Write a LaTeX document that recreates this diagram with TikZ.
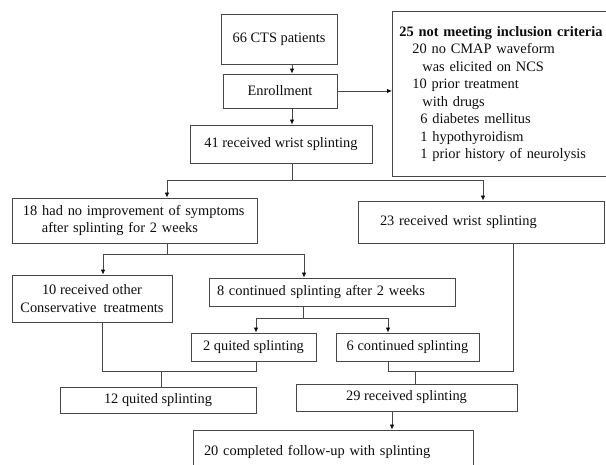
\documentclass[tikz,border=0pt]{standalone}
\usepackage{fontspec}
\setmainfont{Liberation Serif}
\usetikzlibrary{arrows.meta}
\definecolor{linegray}{gray}{0.28}
\definecolor{textgray}{gray}{0.05}

\begin{document}
\begin{tikzpicture}[x=1pt,y=-1pt,
	flow_box/.style={draw=linegray,line width=0.8pt,inner sep=0pt,text=textgray,font=\fontsize{14.4}{17.5}\selectfont},
	mid_box/.style={flow_box,align=center},
	left_box/.style={flow_box,align=left,inner xsep=#1},
	flow_line/.style={draw=linegray,line width=0.8pt},
	flow_arrow/.style={flow_line,-{Latex[length=5pt,width=4.5pt,color=textgray]}}]
		
		\useasboundingbox (0,0) rectangle (606,465);
		\clip (0,0) rectangle (606,465);
		
		\node[mid_box,minimum width=116pt,minimum height=50pt] (pat) at (279,39) {66 CTS patients};
		\node[mid_box,minimum width=114pt,minimum height=34pt] (enr) at (280,91) {Enrollment};
		\node[left_box=7pt,text width=206pt,minimum height=165pt,anchor=north west] (excl) at (392,11) {\textbf{25 not meeting inclusion criteria}\\
			\hspace*{13pt}20 no CMAP waveform\\
			\hspace*{23pt}was elicited on NCS\\
			\hspace*{13pt}10 prior treatment\\
			\hspace*{23pt}with drugs\\
			\hspace*{21pt}6 diabetes mellitus\\
			\hspace*{21pt}1 hypothyroidism\\
			\hspace*{21pt}1 prior history of neurolysis};
		\node[mid_box,minimum width=182pt,minimum height=38pt] (wrist41) at (281,144) {41 received wrist splinting};
		\node[left_box=11pt,text width=223pt,minimum height=45pt] (noimp) at (134.5,220.5) {18 had no improvement of symptoms\\\hspace*{19pt}after splinting for 2 weeks};
		\node[left_box=22pt,text width=202pt,minimum height=42pt] (wrist23) at (481,222) {23 received wrist splinting};
		\node[mid_box,minimum width=160pt,minimum height=47pt] (other10) at (92,298.5) {10 received other\\Conservative~~treatments};
		\node[left_box=8pt,text width=230pt,minimum height=28pt] (cont8) at (332,292) {8 continued splinting after 2 weeks};
		\node[mid_box,minimum width=125pt,minimum height=28pt] (quit2) at (253.5,347) {2 quited splinting};
		\node[mid_box,minimum width=143pt,minimum height=28pt] (cont6) at (407.5,347) {6 continued splinting};
		\node[mid_box,minimum width=196pt,minimum height=26pt] (quit12) at (158,400) {12 quited splinting};
		\node[mid_box,minimum width=221pt,minimum height=27pt] (recv29) at (406.5,397.5) {29 received splinting};
		\node[left_box=11pt,text width=258pt,minimum height=44pt] (done20) at (333,452) {20 completed follow-up with splinting};
		
		\coordinate (spine) at (292,0);
		
		\draw[flow_arrow] (pat.south -| spine) -- (enr.north -| spine);
		\draw[flow_arrow] (enr.south -| spine) -- (wrist41.north -| spine);
		\draw[flow_arrow] (enr.east) -- (excl.west |- enr.east);
		\draw[flow_arrow] (wrist41.south -| spine) -- ++(0,17) -| ([xshift=32.5pt]noimp.north);
		\draw[flow_arrow] (wrist41.south -| spine) -- ++(0,17) -| ([xshift=2pt]wrist23.north);
		\draw[flow_arrow] ([xshift=32.5pt]noimp.south) -- ++(0,11) -| ([xshift=11pt]other10.north);
		\draw[flow_arrow] ([xshift=32.5pt]noimp.south) -- ++(0,11) -| ([xshift=-28pt]cont8.north);
		\draw[flow_arrow] ([xshift=-29pt]cont8.south) -- ++(0,12) -| ([xshift=2.5pt]quit2.north);
		\draw[flow_arrow] ([xshift=-29pt]cont8.south) -- ++(0,12) -| ([xshift=-19.5pt]cont6.north);
		\draw[flow_line] ([xshift=10pt]other10.south) -- ++(0,49) -| ([xshift=2.5pt]quit2.south);
		\draw[flow_line] ([xshift=3pt]quit12.north) -- ++(0,-16);
		\draw[flow_line] ([xshift=-19.5pt]cont6.south) -- ++(0,10) -| ([xshift=32pt]wrist23.south);
		\draw[flow_line] ([xshift=8.5pt]recv29.north) -- ++(0,-13);
		\draw[flow_arrow] ([xshift=-14.5pt]recv29.south) -- ([xshift=59pt]done20.north);
		\end{tikzpicture}
\end{document}
